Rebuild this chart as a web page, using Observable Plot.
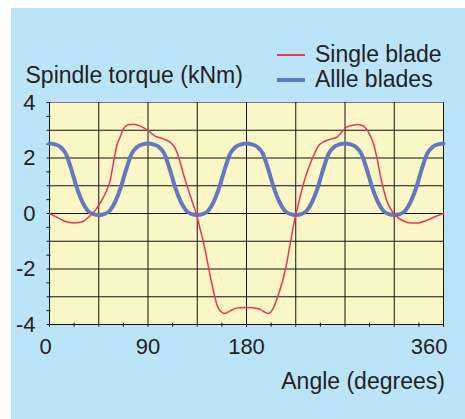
<!DOCTYPE html>
<html><head><meta charset="utf-8">
<script src="https://cdn.jsdelivr.net/npm/d3@7"></script>
<script src="https://cdn.jsdelivr.net/npm/@observablehq/plot@0.6"></script>
<style>
body{margin:0;background:#fff;font-family:"Liberation Sans",Arial,sans-serif;}
#panel{position:absolute;left:11px;top:8px;width:454px;height:411px;background:#bbe4f8;overflow:hidden;}
#chart{position:absolute;left:0;top:0;}
.t{position:absolute;font-size:23px;color:#222;white-space:nowrap;line-height:1;}
.sw{position:absolute;}
</style></head><body>
<div id="panel">
  <div id="chart"></div>
  <div class="sw" style="left:266px;top:46px;width:28px;height:2px;background:#e8375c"></div>
  <div class="t" style="left:304px;top:34.5px">Single blade</div>
  <div class="sw" style="left:266px;top:70px;width:28px;height:4px;background:#6279bf"></div>
  <div class="t" style="left:304px;top:59.5px">Allle blades</div>
</div>
<script>
// Single blade torque (angle in degrees, torque in kNm)
const redAngles = [0,8,14,23,31,36,42,46,51,55.5,58.5,61.5,64.5,67.5,72,77,83,90,96.5,104,110,115,118,121,124,127,131.5,134.5,137.5,141,144,147,150,153,156,160.5,165,171,180,191,195.5,200,204.5,209,214,217,220,223,225,227.5,230.5,233.5,236.5,239.5,242.5,245.5,250,256.5,262.5,267,271.5,276,282,287,291.5,296,299,302,305,308,313,317.5,323.5,329.5,337,345,352.5,360];
const redValues = [0,-0.16,-0.28,-0.34,-0.28,-0.12,0.12,0.36,0.72,1.2,1.85,2.45,2.75,3.05,3.2,3.22,3.15,2.99,2.79,2.69,2.57,2.34,2.03,1.62,1.2,0.84,0.3,-0.06,-0.54,-1.08,-1.68,-2.28,-2.82,-3.3,-3.51,-3.6,-3.51,-3.41,-3.39,-3.43,-3.53,-3.6,-3.41,-2.94,-2.28,-1.74,-1.08,-0.42,-0.06,0.36,0.84,1.26,1.62,1.92,2.19,2.43,2.57,2.67,2.75,2.93,3.11,3.17,3.21,3.15,2.93,2.52,2.03,1.44,0.9,0.48,0.08,-0.12,-0.27,-0.34,-0.34,-0.24,-0.11,0];

// All blades torque
const blueAngles = [0,5,10,15,20,25,30,35,40,45,50,55,60,65,70,75,80,85,90,95,100,105,110,115,120,125,130,135,140,145,150,155,160,165,170,175,180,185,190,195,200,205,210,215,220,225,230,235,240,245,250,255,260,265,270,275,280,285,290,295,300,305,310,315,320,325,330,335,340,345,350,355,360];
const blueValues = [2.52,2.49,2.4,2.15,1.58,0.92,0.42,0.1,-0.02,-0.05,-0.02,0.1,0.42,0.92,1.58,2.15,2.4,2.49,
  2.52,2.49,2.4,2.15,1.58,0.92,0.42,0.1,-0.02,-0.05,-0.02,0.1,0.42,0.92,1.58,2.15,2.4,2.49,
  2.52,2.49,2.4,2.15,1.58,0.92,0.42,0.1,-0.02,-0.05,-0.02,0.1,0.42,0.92,1.58,2.15,2.4,2.49,
  2.52,2.49,2.4,2.15,1.58,0.92,0.42,0.1,-0.02,-0.05,-0.02,0.1,0.42,0.92,1.58,2.15,2.4,2.49,
  2.52];

const xGrid = [0,45,90,135,180,225,270,315,360];
const xMinor = [22.5,67.5,112.5,157.5,202.5,247.5,292.5,337.5];
const yGrid = [-4,-3,-2,-1,0,1,2,3];
const yMinor = [-3.5,-2.5,-1.5,-0.5,0.5,1.5,2.5,3.5];
const yTickLabels = [-4,-2,0,2,4];
const xLabelsMid = [90,180];
const xLabelsStart = [0];
const xLabelsEnd = [360];
const yTitle = "Spindle torque (kNm)";
const xTitle = "Angle (degrees)";

const red = redAngles.map((a,i)=>({a, v: redValues[i]}));
const blue = blueAngles.map((a,i)=>({a, v: blueValues[i]}));

const ink = "#222";
const chart = Plot.plot({
  width: 454, height: 411,
  marginLeft: 38, marginRight: 22, marginTop: 94, marginBottom: 95,
  style: {background: "transparent", fontFamily: "'Liberation Sans', Arial, sans-serif", fontSize: "22px", color: ink, overflow: "visible"},
  x: {domain: [0, 360], axis: null},
  y: {domain: [-4, 4]},
  marks: [
    Plot.frame({fill: "#faf6c6", stroke: null}),
    Plot.ruleY([4], {x1: 0, x2: 360, stroke: "#777", strokeWidth: 1}),
    Plot.ruleX(xGrid, {x: d=>d, y1: -4.1, y2: 4, stroke: "#111", strokeWidth: 1}),
    Plot.ruleY(yGrid, {y: d=>d, x1: -2.2, x2: 360, stroke: "#111", strokeWidth: 1}),
    Plot.ruleX(xMinor, {x: d=>d, y1: -4.1, y2: -3.95, stroke: "#111", strokeWidth: 1}),
    Plot.ruleY(yMinor, {y: d=>d, x1: -2.4, x2: 1.3, stroke: "#111", strokeWidth: 1}),
    Plot.ruleY([4], {x1: -2.4, x2: 1.3, stroke: "#111", strokeWidth: 1}),
    Plot.line(blue, {x: "a", y: "v", stroke: "#6279bf", strokeWidth: 4, curve: "monotone-x"}),
    Plot.line(red, {x: "a", y: "v", stroke: "#e8375c", strokeWidth: 1.5, curve: "monotone-x"}),
    Plot.axisY(yTickLabels, {tickSize: 0, tickPadding: 14, label: null, tickFormat: d => String(d), fontSize: 22, fill: ink}),
    Plot.text(xLabelsMid, {x: d=>d, text: d=>String(d), frameAnchor: "bottom", dy: 29, fontSize: 22, fill: ink}),
    Plot.text(xLabelsStart, {x: d=>d, text: d=>String(d), frameAnchor: "bottom", dy: 29, dx: -4, fontSize: 22, fill: ink}),
    Plot.text(xLabelsEnd, {x: d=>d, text: d=>String(d), frameAnchor: "bottom", dy: 29, dx: 4, textAnchor: "end", fontSize: 22, fill: ink}),
    Plot.text([xTitle], {text: d=>d, frameAnchor: "bottom-right", textAnchor: "end", lineAnchor: "bottom", dx: 1.4, dy: 64, fontSize: 23, fill: ink}),
    Plot.text([yTitle], {text: d=>d, frameAnchor: "top-left", textAnchor: "start", lineAnchor: "bottom", dx: -24, dy: -19.3, fontSize: 23, fill: ink})
  ]
});
document.getElementById("chart").appendChild(chart);
</script>
</body></html>
